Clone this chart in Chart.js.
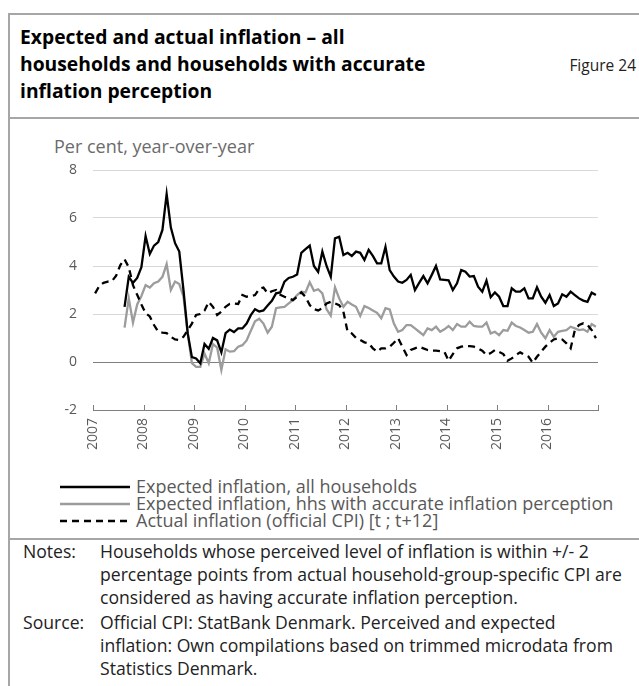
<!DOCTYPE html>
<html>
<head>
<meta charset="utf-8">
<script src="https://cdn.jsdelivr.net/npm/chart.js@4/dist/chart.umd.min.js"></script>
<style>
  body { margin: 0; background: #fff; font-family: 'Open Sans', sans-serif; }
  #page { position: relative; width: 639px; height: 686px; overflow: hidden; }
  .rule { position: absolute; background: #a6a6a6; }
  #title { position: absolute; left: 20px; top: 23px; font-size: 19.3px; font-weight: bold; line-height: 27px; color: #000; }
  #fig { position: absolute; right: 3px; top: 54px; font-size: 15.5px; color: #222; }
  #unit { position: absolute; left: 54px; top: 134px; font-size: 18px; color: #6b6b6b; }
  #chartBox { position: absolute; left: 0; top: 118px; width: 639px; height: 352px; }
  #legend { position: absolute; left: 60px; top: 478px; font-size: 18px; color: #595959; line-height: 17px; }
  #legend div { display: flex; align-items: center; white-space: nowrap; height: 17px; }
  #legend svg { margin-right: 6px; flex: none; }
  #notes { position: absolute; left: 23px; top: 540px; font-size: 17.6px; color: #222; line-height: 23px; }
  #notes table { border-collapse: collapse; }
  #notes td { padding: 0; vertical-align: top; white-space: nowrap; }
  #notes td.k { width: 77px; }
  #notes tr + tr td { padding-top: 2px; }
</style>
</head>
<body>
<div id="page">
  <div class="rule" style="left:8px;top:13px;width:2px;height:673px"></div>
  <div class="rule" style="left:8px;top:13px;width:631px;height:2px"></div>
  <div id="title">Expected and actual inflation – all<br>households and households with accurate<br>inflation perception</div>
  <div id="fig">Figure 24</div>
  <div class="rule" style="left:8px;top:117px;width:631px;height:2px"></div>
  <div id="unit">Per cent, year-over-year</div>
  <div id="chartBox"><canvas id="chart" width="639" height="352"></canvas></div>
  <div id="legend"></div>
  <div class="rule" style="left:8px;top:538px;width:631px;height:2px"></div>
  <div id="notes">
    <table>
      <tr><td class="k">Notes:</td><td>Households whose perceived level of inflation is within +/- 2<br>percentage points from actual household-group-specific CPI are<br>considered as having accurate inflation perception.</td></tr>
      <tr><td class="k">Source:</td><td>Official CPI: StatBank Denmark. Perceived and expected<br>inflation: Own compilations based on trimmed microdata from<br>Statistics Denmark.</td></tr>
    </table>
  </div>
</div>
<script>
// monthly observations, Jan 2007 - Dec 2016 (120 months)
const startYear = 2007;
const monthCount = 120;
const yearTicks = [2007, 2008, 2009, 2010, 2011, 2012, 2013, 2014, 2015, 2016];
const yTicks = [-2, 0, 2, 4, 6, 8];

const seriesNames = [
  'Expected inflation, all households',
  'Expected inflation, hhs with accurate inflation perception',
  'Actual inflation (official CPI) [t ; t+12]'
];

// expected inflation, all households (survey starts Aug 2007)
const expectedAll = [
  null, null, null, null, null, null, null,
  2.3, 3.55, 3.3, 3.5, 3.95, 5.25, 4.5, 4.85, 5.0, 5.5,
  7.0, 5.6, 4.95, 4.6, 3.0, 1.2, 0.2, 0.15, -0.05, 0.75,
  0.55, 1.0, 0.9, 0.4, 1.2, 1.35, 1.25, 1.4, 1.4, 1.6,
  1.95, 2.2, 2.1,
  2.15, 2.35, 2.55, 2.86, 2.9, 3.35, 3.5, 3.55, 3.65, 4.55,
  4.7, 4.85, 4.0, 3.75, 4.6, 4.0, 3.55, 5.15, 5.22, 4.46,
  4.55, 4.42, 4.6, 4.55, 4.25, 4.67, 4.42, 4.11, 4.11, 4.8,
  3.83, 3.56, 3.35, 3.3, 3.42, 3.63, 3.0, 3.3, 3.58, 3.28,
  3.63, 4.0, 3.44, 3.42, 3.4, 3.0, 3.28, 3.83, 3.76, 3.56,
  3.58, 3.14, 2.93, 3.39, 2.7, 2.9, 2.72, 2.33, 2.33, 3.07,
  2.93, 2.93, 3.07, 2.65, 2.65, 3.11, 2.72, 2.47, 2.79, 2.33,
  2.44, 2.82, 2.72, 2.93, 2.79, 2.65, 2.56, 2.51, 2.89, 2.79
];

// expected inflation, households with accurate perception
const expectedAccurate = [
  null, null, null, null, null, null, null,
  1.43, 2.65, 1.64, 2.4, 2.75, 3.2, 3.1, 3.28, 3.35, 3.55,
  4.08, 3.0, 3.35, 3.25, 2.72, 1.2, -0.05, -0.2, -0.2, 0.35,
  -0.05, 0.75, 0.6, -0.33, 0.53, 0.43, 0.45, 0.64, 0.7, 0.9,
  1.3, 1.7, 1.8,
  1.6, 1.22, 1.47, 2.24, 2.28, 2.3, 2.44, 2.58, 2.79, 2.93,
  2.9, 3.32, 2.97, 3.03, 2.86, 2.2, 1.93, 3.11, 2.65, 2.3,
  2.51, 2.4, 2.3, 1.92, 2.33, 2.25, 2.15, 2.05, 1.82, 2.24,
  2.19, 1.6, 1.26, 1.33, 1.54, 1.54, 1.4, 1.26, 1.12, 1.4,
  1.33, 1.47, 1.26, 1.36, 1.5, 1.33, 1.58, 1.47, 1.47, 1.68,
  1.5, 1.47, 1.47, 1.64, 1.19, 1.26, 1.12, 1.33, 1.3, 1.64,
  1.5, 1.44, 1.33, 1.22, 1.26, 1.58, 1.22, 0.99, 1.33, 1.05,
  1.26, 1.3, 1.33, 1.47, 1.4, 1.33, 1.36, 1.26, 1.58, 1.47
];

// actual CPI inflation over the following 12 months
const actualCpi = [
  2.86, 3.17, 3.3, 3.35, 3.37, 3.6, 4.04, 4.28, 3.95, 3.2,
  2.8, 2.4, 2.03, 1.9, 1.54, 1.26, 1.22, 1.2, 1.05, 0.94,
  0.92, 1.05, 1.33, 1.6, 1.96, 2.0, 2.14, 2.51, 2.3, 1.96,
  2.1, 2.3, 2.42, 2.44, 2.42, 2.79, 2.72, 2.75, 2.79, 3.05,
  3.1, 2.86, 2.95, 3.0, 2.8, 2.72, 2.65, 2.58, 2.72, 2.9,
  2.72, 2.37, 2.2, 2.15, 2.24, 2.44, 2.51, 2.44, 2.37, 2.1,
  1.26, 1.19, 1.0, 0.92, 0.82, 0.78, 0.57, 0.43, 0.57, 0.57,
  0.64, 0.8, 0.99, 0.64, 0.29, 0.5, 0.57, 0.64, 0.57, 0.5,
  0.47, 0.47, 0.45, 0.43, 0.05, 0.33, 0.57, 0.64, 0.67, 0.66,
  0.64, 0.57, 0.47, 0.29, 0.37, 0.5, 0.42, 0.33, 0.05, 0.15,
  0.29, 0.4, 0.3, 0.22, -0.03, 0.22, 0.43, 0.64, 0.8, 0.94,
  0.99, 0.94, 0.78, 0.57, 1.33, 1.54, 1.61, 1.54, 1.33, 0.99
];

// month i sits in the middle of its month on a decimal-year axis
const monthPos = [];
for (let i = 0; i < monthCount; i++) monthPos.push(startYear + (i + 0.5) / 12);
const toPoints = arr => arr.map((v, i) => ({ x: monthPos[i], y: v }));

const styles = [
  { color: '#000000', dash: [] },
  { color: '#9c9c9c', dash: [] },
  { color: '#000000', dash: [7, 5] }
];
const values = [expectedAll, expectedAccurate, actualCpi];

const datasets = values.map((arr, k) => ({
  label: seriesNames[k],
  data: toPoints(arr),
  borderColor: styles[k].color,
  borderDash: styles[k].dash,
  borderWidth: 2.3,
  pointRadius: 0,
  tension: 0,
  fill: false
}));
// dashed series under the solid ones, gray under black
datasets[0].order = 0;
datasets[1].order = 2;
datasets[2].order = 1;

// small inward tick marks on the time axis
const innerTicks = {
  id: 'innerTicks',
  afterDatasetsDraw(chart) {
    const xs = chart.scales.x;
    const bottom = chart.chartArea.bottom;
    const c = chart.ctx;
    c.save();
    c.strokeStyle = '#7f7f7f';
    c.lineWidth = 1;
    xs.ticks.forEach(t => {
      const px = Math.round(xs.getPixelForValue(t.value)) + 0.5;
      c.beginPath();
      c.moveTo(px, bottom);
      c.lineTo(px, bottom - 5);
      c.stroke();
    });
    c.restore();
  }
};

new Chart(document.getElementById('chart'), {
  type: 'line',
  data: { datasets },
  plugins: [innerTicks],
  options: {
    responsive: false,
    animation: false,
    layout: { padding: { top: 52, right: 41, left: 0, bottom: 0 } },
    plugins: { legend: { display: false }, tooltip: { enabled: false } },
    scales: {
      x: {
        type: 'linear',
        min: 2007,
        max: 2017,
        afterBuildTicks(scale) {
          scale.ticks = yearTicks.concat([2017]).map(v => ({ value: v }));
        },
        afterFit(scale) { scale.height = 60; },
        grid: { display: false, drawTicks: false },
        border: { display: true, color: '#7f7f7f', width: 1 },
        ticks: {
          minRotation: 90,
          maxRotation: 90,
          padding: 8,
          color: '#595959',
          font: { family: 'Open Sans', size: 14 },
          callback: v => (yearTicks.includes(v) ? String(v) : '')
        }
      },
      y: {
        min: -2,
        max: 8,
        afterBuildTicks(scale) { scale.ticks = yTicks.map(v => ({ value: v })); },
        afterFit(scale) { scale.width = 93; },
        border: { display: false },
        grid: {
          drawTicks: false,
          color: c => (c.tick && c.tick.value === 0 ? '#7f7f7f' : '#d9d9d9'),
          lineWidth: 1
        },
        ticks: {
          padding: 16,
          color: '#595959',
          font: { family: 'Open Sans', size: 14 }
        }
      }
    }
  }
});

// legend rows built from the dataset labels and styles
const legend = document.getElementById('legend');
datasets.forEach((d, k) => {
  const row = document.createElement('div');
  const dash = styles[k].dash.length ? ` stroke-dasharray="${styles[k].dash.join(' ')}"` : '';
  row.innerHTML = `<svg width="70" height="17"><line x1="0" y1="9" x2="70" y2="9" stroke="${styles[k].color}" stroke-width="2.6"${dash}/></svg><span>${d.label}</span>`;
  legend.appendChild(row);
});
</script>
</body>
</html>
